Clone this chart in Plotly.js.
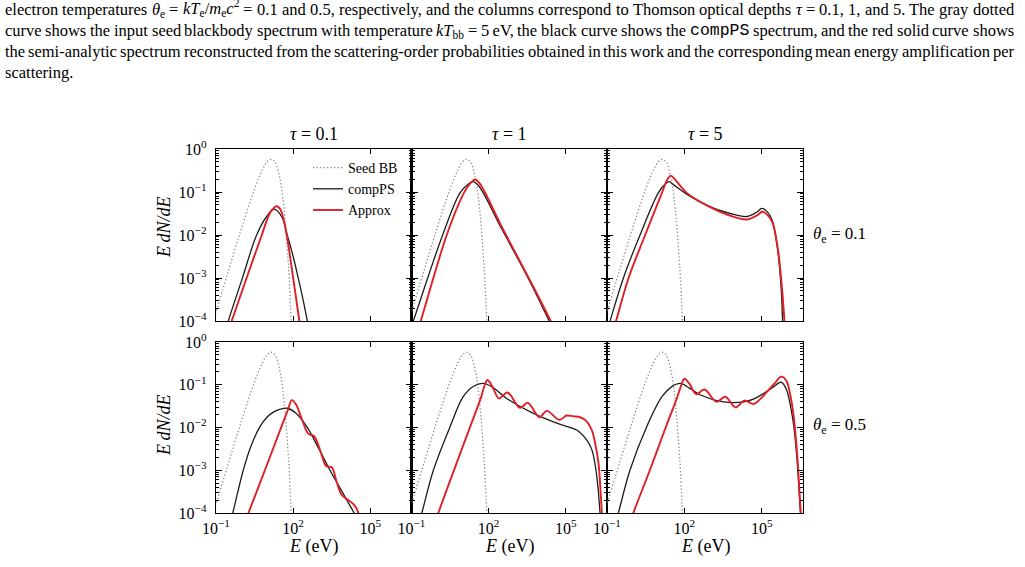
<!DOCTYPE html>
<html>
<head>
<meta charset="utf-8">
<script src="https://cdn.plot.ly/plotly-3.0.1.min.js"></script>
<style>
  html, body { margin: 0; padding: 0; background: #fff; }
  #fig { width: 1025px; height: 567px; }
</style>
</head>
<body>
<div id="fig"></div>
<script>
// ---- Spectra, stored as log10(E / eV) and log10(E dN/dE) ----

// Seed blackbody, kT_bb = 5 eV (same in every panel)
const seedLogE = [-1.1, -1.0, -0.5, 0.0, 0.5, 0.8, 1.0, 1.15, 1.3, 1.5, 1.6, 1.7, 1.8, 1.85, 1.9, 1.95];
const seedLogF = [-3.99, -3.79, -2.80, -1.83, -0.93, -0.49, -0.29, -0.24, -0.31, -0.73, -1.14, -1.74, -2.56, -3.03, -3.68, -4.37];

// theta_e = 0.1, tau = 0.1
const compA_logE = [-0.65, -0.52, 0.0, 0.58, 0.97, 1.255, 1.55, 1.77, 2.0, 2.2, 2.4, 2.55, 2.65];
const compA_logF = [-4.3, -4.0, -3.05, -2.0, -1.57, -1.40, -1.57, -2.0, -2.5, -3.01, -3.55, -4.0, -4.3];
const approxA_logE = [-0.5, -0.39, 0.19, 0.78, 0.97, 1.15, 1.36, 1.5, 1.62, 1.75, 2.0, 2.24, 2.32];
const approxA_logF = [-4.2, -4.0, -3.0, -2.0, -1.67, -1.44, -1.33, -1.40, -1.62, -2.0, -3.0, -4.0, -4.35];

// theta_e = 0.1, tau = 1
const compB_logE = [-1.05, -0.93, 0.21, 0.886, 1.2, 1.38, 1.6, 2.5, 3.54, 4.35, 4.5];
const compB_logF = [-4.2, -4.0, -2.0, -1.02, -0.82, -0.76, -0.85, -1.85, -3.01, -4.0, -4.2];
const approxB_logE = [-0.75, -0.64, 0.37, 1.04, 1.3, 1.47, 1.65, 2.5, 3.54, 4.41, 4.55];
const approxB_logF = [-4.2, -4.0, -2.0, -1.02, -0.79, -0.71, -0.8, -1.8, -2.98, -4.0, -4.2];

// theta_e = 0.1, tau = 5
const compC_logE = [-1.0, -0.88, -0.37, 0.28, 0.99, 1.25, 1.41, 1.6, 2.09, 2.87, 3.77, 4.42, 4.8, 5.0, 5.2, 5.4, 5.6, 5.75, 5.81, 5.86];
const compC_logF = [-4.25, -4.0, -3.01, -2.0, -1.02, -0.82, -0.76, -0.84, -1.05, -1.31, -1.50, -1.57, -1.47, -1.38, -1.45, -1.65, -2.27, -3.2, -4.0, -4.5];
const approxC_logE = [-0.78, -0.65, -0.17, 0.48, 1.13, 1.35, 1.47, 1.65, 2.09, 2.87, 3.77, 4.42, 4.8, 5.02, 5.2, 5.42, 5.62, 5.78, 5.88, 5.93];
const approxC_logF = [-4.25, -4.0, -3.01, -2.0, -1.02, -0.70, -0.62, -0.72, -1.02, -1.31, -1.55, -1.64, -1.55, -1.46, -1.52, -1.72, -2.3, -3.2, -4.0, -4.5];

// theta_e = 0.5, tau = 0.1
const compD_logE = [-0.5, -0.35, -0.15, 0.06, 0.35, 0.71, 1.0, 1.23, 1.5, 1.77, 2.1, 2.53, 3.0, 3.43, 3.9, 4.37, 4.5];
const compD_logF = [-4.3, -4.0, -3.5, -3.0, -2.45, -1.98, -1.75, -1.64, -1.57, -1.55, -1.66, -1.98, -2.5, -3.0, -3.5, -4.0, -4.15];
const approxD_logE = [0.1, 0.26, 0.9, 1.5, 1.8, 1.943, 2.1, 2.33, 2.59, 2.81, 3.07, 3.28, 3.50, 3.69, 3.89, 4.15, 4.37, 4.53, 4.6];
const approxD_logF = [-4.25, -4.0, -3.0, -2.05, -1.58, -1.36, -1.45, -1.79, -2.15, -2.20, -2.57, -2.90, -2.93, -3.27, -3.58, -3.70, -3.81, -3.99, -4.2];

// theta_e = 0.5, tau = 1
const compE_logE = [-0.75, -0.60, -0.15, 0.50, 1.01, 1.4, 1.79, 2.2, 2.70, 3.74, 4.65, 5.42, 5.81, 6.0, 6.13, 6.25, 6.33, 6.4];
const compE_logF = [-4.3, -4.0, -3.0, -1.98, -1.28, -1.04, -0.97, -1.08, -1.32, -1.67, -1.90, -2.06, -2.29, -2.5, -2.84, -3.4, -4.0, -4.4];
const approxE_logE = [-0.1, 0.04, 0.7, 1.3, 1.7, 1.85, 1.95, 2.15, 2.40, 2.73, 3.22, 3.52, 3.97, 4.26, 4.75, 5.03, 5.3, 5.55, 5.8, 6.01, 6.15, 6.27, 6.40, 6.45];
const approxE_logF = [-4.25, -4.0, -2.92, -1.95, -1.3, -1.0, -0.89, -1.05, -1.32, -1.18, -1.54, -1.42, -1.76, -1.61, -1.82, -1.72, -1.74, -1.76, -1.85, -2.06, -2.4, -2.84, -4.0, -4.4];

// theta_e = 0.5, tau = 5
const compF_logE = [-0.7, -0.56, -0.11, 0.54, 1.13, 1.5, 1.84, 2.2, 2.62, 3.52, 4.30, 4.7, 5.08, 5.45, 5.75, 5.95, 6.12, 6.25, 6.38, 6.5, 6.55];
const compF_logF = [-4.3, -4.0, -3.0, -1.98, -1.28, -1.05, -0.97, -1.08, -1.24, -1.40, -1.40, -1.33, -1.20, -1.05, -0.94, -1.1, -1.51, -2.0, -2.84, -4.0, -4.4];
const approxF_logE = [-0.12, 0.02, 0.66, 1.3, 1.7, 1.9, 2.0, 2.2, 2.46, 2.78, 3.24, 3.59, 3.98, 4.33, 4.69, 4.95, 5.21, 5.5, 5.75, 5.95, 6.12, 6.25, 6.38, 6.52, 6.6];
const approxF_logF = [-4.25, -4.0, -3.0, -1.96, -1.33, -0.98, -0.86, -0.98, -1.22, -1.11, -1.40, -1.28, -1.53, -1.37, -1.45, -1.33, -1.16, -0.97, -0.81, -0.9, -1.28, -1.8, -2.68, -4.0, -4.4];

// Panel labels and ticks
const tauLabels = ['0.1', '1', '5'];
const thetaLabels = ['0.1', '0.5'];
const xTickVals = [0.1, 100, 1e5];
const xTickText = ['10<sup>−1</sup>', '10<sup>2</sup>', '10<sup>5</sup>'];
const yTickVals = [1e-4, 1e-3, 1e-2, 1e-1, 1];
const yTickText = ['10<sup>−4</sup>', '10<sup>−3</sup>', '10<sup>−2</sup>', '10<sup>−1</sup>', '10<sup>0</sup>'];
const legendNames = ['Seed BB', 'compPS', 'Approx'];

// Caption lines (word by word, justified to the text block width)
const captionLine1 = ['electron', 'temperatures', '<i>θ</i><sub>e</sub>', '=', '<i>kT</i><sub>e</sub>/<i>m</i><sub>e</sub><i>c</i><sup>2</sup>', '=', '0.1', 'and', '0.5,', 'respectively,', 'and', 'the', 'columns', 'correspond', 'to', 'Thomson', 'optical', 'depths', '<i>τ</i>', '=', '0.1,', '1,', 'and', '5.', 'The', 'gray', 'dotted'];
const captionLine2 = ['curve', 'shows', 'the', 'input', 'seed', 'blackbody', 'spectrum', 'with', 'temperature', '<i>kT</i><sub>bb</sub>', '=', '5\u2009eV,', 'the', 'black', 'curve', 'shows', 'the', '<span style="font-family:\'Liberation Mono\'">compPS</span>', 'spectrum,', 'and', 'the', 'red', 'solid', 'curve', 'shows'];
const captionLine3 = ['the', 'semi-analytic', 'spectrum', 'reconstructed', 'from', 'the', 'scattering-order', 'probabilities', 'obtained', 'in', 'this', 'work', 'and', 'the', 'corresponding', 'mean', 'energy', 'amplification', 'per'];
const captionLine4 = ['scattering.'];

// ---- Figure geometry (pixels) ----
const W = 1025, H = 567;
const colPx = [[216, 411.5], [411.5, 607], [607, 803]];
const rowPx = [[149, 321], [342, 513]];
const SERIF = 'Liberation Serif';
const RED = 'rgb(222,32,38)';
const BLACK = '#1c1c1c';
const GRAY = '#8a8a8a';

const px2x = p => p / W;
const px2y = p => 1 - p / H;
const pow10 = a => a.map(v => Math.pow(10, v));

const panels = [
  { comp: [compA_logE, compA_logF], approx: [approxA_logE, approxA_logF] },
  { comp: [compB_logE, compB_logF], approx: [approxB_logE, approxB_logF] },
  { comp: [compC_logE, compC_logF], approx: [approxC_logE, approxC_logF] },
  { comp: [compD_logE, compD_logF], approx: [approxD_logE, approxD_logF] },
  { comp: [compE_logE, compE_logF], approx: [approxE_logE, approxE_logF] },
  { comp: [compF_logE, compF_logF], approx: [approxF_logE, approxF_logF] }
];

const yMinorVals = [];
for (let d = -4; d < 0; d++) for (let k = 2; k <= 9; k++) yMinorVals.push(k * Math.pow(10, d));

const data = [];
const layout = {
  width: W, height: H,
  margin: { l: 0, r: 0, t: 0, b: 0 },
  paper_bgcolor: '#fff', plot_bgcolor: '#fff',
  showlegend: true,
  legend: {
    x: px2x(308), y: px2y(152), xanchor: 'left', yanchor: 'top',
    bgcolor: 'rgba(0,0,0,0)', borderwidth: 0,
    font: { family: SERIF, size: 14, color: '#000' },
    tracegroupgap: 0
  },
  annotations: []
};

panels.forEach((p, i) => {
  const row = Math.floor(i / 3), col = i % 3;
  const sfx = i === 0 ? '' : String(i + 1);
  const xa = 'x' + sfx, ya = 'y' + sfx;
  const first = i === 0;
  data.push({
    x: pow10(seedLogE), y: pow10(seedLogF), xaxis: xa, yaxis: ya,
    type: 'scatter', mode: 'lines', name: legendNames[0], showlegend: first,
    line: { color: GRAY, width: 1.3, dash: '1.3px,2.2px', shape: 'spline', smoothing: 1 }
  });
  data.push({
    x: pow10(p.comp[0]), y: pow10(p.comp[1]), xaxis: xa, yaxis: ya,
    type: 'scatter', mode: 'lines', name: legendNames[1], showlegend: first,
    line: { color: BLACK, width: 1.3, shape: 'spline', smoothing: 1 }
  });
  data.push({
    x: pow10(p.approx[0]), y: pow10(p.approx[1]), xaxis: xa, yaxis: ya,
    type: 'scatter', mode: 'lines', name: legendNames[2], showlegend: first,
    line: { color: RED, width: 1.9, shape: 'spline', smoothing: 1 }
  });

  const common = {
    type: 'log', showgrid: false, zeroline: false,
    showline: true, linecolor: '#000', linewidth: 1.3, mirror: 'allticks',
    ticks: 'inside', tickcolor: '#000', tickwidth: 1,
    tickfont: { family: SERIF, size: 16, color: '#000' }
  };
  layout['xaxis' + sfx] = Object.assign({}, common, {
    domain: [px2x(colPx[col][0]), px2x(colPx[col][1])],
    anchor: ya, range: [-1, 6.6],
    tickmode: 'array', tickvals: xTickVals, ticktext: xTickText,
    ticklen: 5, showticklabels: row === 1, ticklabelstandoff: 0
  });
  layout['yaxis' + sfx] = Object.assign({}, common, {
    domain: [px2y(rowPx[row][1]), px2y(rowPx[row][0])],
    anchor: xa, range: [-4, 0],
    tickmode: 'array', tickvals: yTickVals, ticktext: yTickText,
    ticklen: 6, showticklabels: col === 0, ticklabelstandoff: 5,
    minor: { tickmode: 'array', tickvals: yMinorVals, ticks: 'inside', ticklen: 3, tickcolor: '#000', tickwidth: 1, showgrid: false }
  });
});

// Column titles, row labels and axis titles
const ann = layout.annotations;
tauLabels.forEach((t, c) => {
  ann.push({ xref: 'paper', yref: 'paper', x: px2x((colPx[c][0] + colPx[c][1]) / 2), y: px2y(134),
    xanchor: 'center', yanchor: 'middle', showarrow: false,
    text: '<i>τ</i> = ' + t, font: { family: SERIF, size: 18, color: '#000' } });
  ann.push({ xref: 'paper', yref: 'paper', x: px2x((colPx[c][0] + colPx[c][1]) / 2), y: px2y(546),
    xanchor: 'center', yanchor: 'middle', showarrow: false,
    text: '<i>E</i> (eV)', font: { family: SERIF, size: 18, color: '#000' } });
});
thetaLabels.forEach((t, r) => {
  ann.push({ xref: 'paper', yref: 'paper', x: px2x(811), y: px2y(r === 0 ? 235 : 426),
    xanchor: 'left', yanchor: 'middle', showarrow: false,
    text: '<i>θ</i><sub>e</sub> = ' + t, font: { family: SERIF, size: 17, color: '#000' } });
  ann.push({ xref: 'paper', yref: 'paper', x: px2x(164), y: px2y(r === 0 ? 227 : 425),
    xanchor: 'center', yanchor: 'middle', showarrow: false, textangle: -90,
    text: '<i>E\u2009dN/dE</i>', font: { family: SERIF, size: 18, color: '#000' } });
});

// ---- Caption: measure every word, then spread the words over the text width ----
const CAP_SIZE = 16.5;
const CAP_LEFT = 5, CAP_RIGHT = 1014;
const captionLines = [captionLine1, captionLine2, captionLine3, captionLine4];
const captionBaselines = [14.5, 35.7, 56.9, 78.1];
const ctx = document.createElement('canvas').getContext('2d');

function wordWidth(html) {
  let w = 0, italic = false, scale = 1, mono = false, m;
  const re = /<(\/?)(i|sub|sup|span)([^>]*)>|([^<]+)/g;
  while ((m = re.exec(html))) {
    if (m[4] !== undefined) {
      const fam = mono ? "'Liberation Mono'" : "'" + SERIF + "'";
      ctx.font = (italic ? 'italic ' : '') + (CAP_SIZE * scale) + 'px ' + fam;
      w += ctx.measureText(m[4]).width;
    } else {
      const closing = m[1] === '/';
      if (m[2] === 'i') italic = !closing;
      else if (m[2] === 'sub' || m[2] === 'sup') scale = closing ? 1 : 0.7;
      else mono = !closing && /Mono/.test(m[3]);
    }
  }
  return w;
}

// distance from the top of a word's text box to its baseline
function topToBaseline(html) {
  return /<sup>/.test(html) ? CAP_SIZE * (0.42 + 0.891 * 0.7) : CAP_SIZE * 0.891;
}

captionLines.forEach((words, li) => {
  const widths = words.map(wordWidth);
  const total = widths.reduce((a, b) => a + b, 0);
  const last = li === captionLines.length - 1;
  const gap = (!last && words.length > 1) ? (CAP_RIGHT - CAP_LEFT - total) / (words.length - 1) : 4;
  let x = CAP_LEFT;
  words.forEach((w, k) => {
    ann.push({ xref: 'paper', yref: 'paper', x: px2x(x), y: px2y(captionBaselines[li] - topToBaseline(w)),
      xanchor: 'left', yanchor: 'top', showarrow: false, borderpad: 0, borderwidth: 0,
      text: w, font: { family: SERIF, size: CAP_SIZE, color: '#000' } });
    x += widths[k] + gap;
  });
});

Plotly.newPlot(document.getElementById('fig'), data, layout,
  { displayModeBar: false, responsive: false, staticPlot: true });
</script>
</body>
</html>
